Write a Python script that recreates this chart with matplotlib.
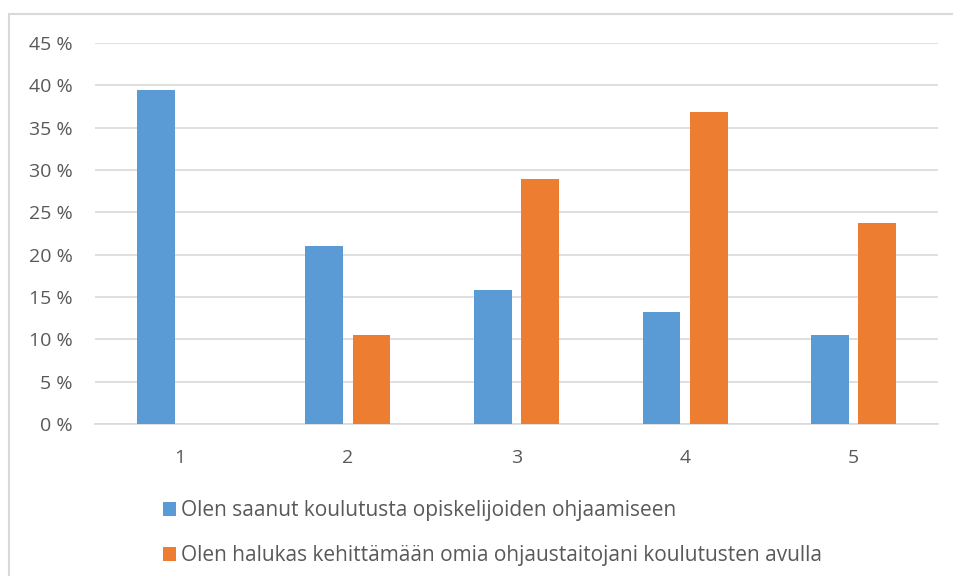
import matplotlib.pyplot as plt
from matplotlib.patches import Rectangle
from matplotlib.ticker import FuncFormatter
import numpy as np

# response distribution on a 1-5 scale, share of respondents
categories = ["1", "2", "3", "4", "5"]
trained = [39.5, 21.05, 15.8, 13.2, 10.5]
willing = [0.0, 10.5, 28.9, 36.8, 23.7]
labels = [
    "Olen saanut koulutusta opiskelijoiden ohjaamiseen",
    "Olen halukas kehittämään omia ohjaustaitojani koulutusten avulla",
]

blue = "#5B9BD5"
orange = "#ED7D31"
text_grey = "#595959"
grid_grey = "#D9D9D9"

plt.rcParams["font.family"] = ["Open Sans", "DejaVu Sans"]

fig = plt.figure(figsize=(9.54, 5.76), dpi=100)
ax = fig.add_axes([0.0996, 0.2639, 0.8836, 0.6614])

x = np.arange(len(categories))
width = 0.225
ax.bar(x - 0.14, trained, width, color=blue, label=labels[0], zorder=3)
ax.bar(x + 0.14, willing, width, color=orange, label=labels[1], zorder=3)

ax.set_xlim(-0.5, len(categories) - 0.5)
ax.set_ylim(0, 45)
ax.set_yticks(range(0, 46, 5))
ax.yaxis.set_major_formatter(FuncFormatter(lambda v, _: f"{v:.0f} %"))
ax.set_xticks(x)
ax.set_xticklabels(categories)

ax.grid(axis="y", color=grid_grey, linewidth=1.2, zorder=0)
for side in ["top", "right", "left"]:
    ax.spines[side].set_visible(False)
ax.spines["bottom"].set_color(grid_grey)
ax.spines["bottom"].set_linewidth(1.2)
ax.tick_params(axis="both", length=0, labelsize=14, colors=text_grey)
ax.tick_params(axis="y", pad=16)
ax.tick_params(axis="x", pad=18)

# chart frame, cut off at the right and bottom edges
fig.patches.append(Rectangle((9 / 954, -0.1), 1.2, 1.1 - 14 / 576,
                             transform=fig.transFigure, fill=False,
                             edgecolor=grid_grey, linewidth=1.5))

leg = fig.legend(loc="upper left", bbox_to_anchor=(155 / 954, 1 - 492 / 576),
                 frameon=False, fontsize=15, labelcolor=text_grey,
                 handlelength=0.6, handleheight=0.6, handletextpad=0.25,
                 labelspacing=1.15, borderaxespad=0)

fig.savefig("out.png", dpi=100)
